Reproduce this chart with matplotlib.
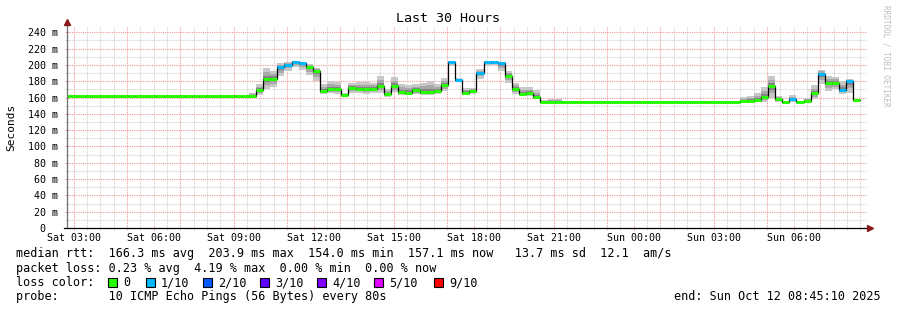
import numpy as np
import matplotlib
matplotlib.use("Agg")
import matplotlib.pyplot as plt
from matplotlib.patches import Rectangle

# ---------------- data ----------------
start_h = 2 + 45 / 60 + 10 / 3600      # Sat 02:45:10, hours since Sat 00:00
end_h = start_h + 30
step_h = 16 / 60                        # 960 s consolidation step
first_edge = 2.64

median = [162, 162, 162, 162, 162, 162, 162, 162, 161.5, 162,
          162, 162, 162, 162, 162, 162, 161.5, 162, 162, 161.5,
          161.5, 162, 162, 162, 162, 162, 162, 169, 183, 183,
          197, 200, 203.6, 202, 197.5, 192, 168, 170, 170, 162.5,
          172, 171, 170, 171, 174, 164, 174, 167, 166, 169,
          167, 167, 168, 175, 203.6, 182, 166, 168, 190, 203.6,
          203.6, 202, 187, 171, 164, 165, 161, 155, 155, 155,
          154.5, 154.5, 154.5, 154.5, 154.5, 154.5, 154.5, 154.5, 154.5, 154.5,
          154.5, 154.5, 154.5, 154.5, 154.5, 154.5, 154.5, 154.5, 154.5, 154.5,
          154.5, 154.5, 154.5, 154.5, 154.5, 155.5, 155.7, 156.7, 160.4, 173.8,
          158, 154, 158, 154.7, 156, 165, 189, 178, 178, 169.8,
          180, 157.1, np.nan]
smoke_lo = [161.5, 161.5, 161.5, 161.5, 161.5, 161.5, 161.5, 161.5, 161, 161.5,
            161.5, 161.5, 161.5, 161.5, 161.5, 161.5, 161, 161.5, 161.5, 161,
            161, 161.5, 161.5, 161.5, 161.5, 161.5, 161.5, 163, 171, 173,
            186, 193, 198, 194, 188, 180, 164, 165, 164, 161,
            166, 165, 164, 165, 166, 161, 167, 163, 163, 164,
            163, 163, 164, 168, 199, 180, 163, 164, 183, 199,
            200, 192, 178, 164, 162, 162, 158, 154, 154, 154,
            154, 154, 154, 154, 154, 154, 154, 154, 154, 154,
            154, 154, 154, 154, 154, 154, 154, 154, 154, 154,
            154, 154, 154, 154, 154, 154, 154, 154, 155, 160,
            155, 153.5, 155, 154, 154, 158, 176, 168, 170, 164,
            166, 155, np.nan]
smoke_hi = [163, 163, 163, 163, 163, 163, 163, 163, 162.5, 163,
            163, 163, 163, 163, 163, 163, 162.5, 163, 163, 162.5,
            162.5, 163, 163, 163, 163, 163, 166, 176, 196, 193,
            202, 204, 205, 204, 201, 196, 176, 180, 179, 166,
            178, 179, 179, 178, 187, 170, 185, 176, 175, 176,
            178, 180, 177, 184, 205, 184, 172, 172, 195, 205,
            205, 204, 193, 178, 173, 173, 169, 157, 158, 158.5,
            156, 155, 155, 155, 155, 155, 155, 155, 155, 155,
            155, 155, 155, 155, 155, 155, 155, 155, 155, 155,
            155, 155, 155, 155, 155, 160.7, 162, 165.7, 173, 187,
            162, 156, 163, 156, 159, 175, 194, 186, 185, 180,
            183, 164, np.nan]
loss = [0] * 30 + [1, 1, 1, 1] + [0] * 20 + [1, 1, 0, 0, 1, 1, 1, 1] + [0] * 40 + \
       [1, 0, 0, 0, 1, 0, 0, 1, 1, 0, 0]

loss_labels = ["0", "1/10", "2/10", "3/10", "4/10", "5/10", "9/10"]
loss_colors = ["#26ff00", "#00b8ff", "#0059ff", "#5e00ff", "#7e00ff", "#dd00ff", "#ff0000"]

xtick_hours = [3, 6, 9, 12, 15, 18, 21, 24, 27, 30]
xtick_labels = ["Sat 03:00", "Sat 06:00", "Sat 09:00", "Sat 12:00", "Sat 15:00",
                "Sat 18:00", "Sat 21:00", "Sun 00:00", "Sun 03:00", "Sun 06:00"]
ytick_vals = [0, 20, 40, 60, 80, 100, 120, 140, 160, 180, 200, 220, 240]
ytick_labels = ["0  "] + ["%d m" % v for v in ytick_vals[1:]]

stats_rtt = "median rtt:  166.3 ms avg  203.9 ms max  154.0 ms min  157.1 ms now   13.7 ms sd  12.1  am/s"
stats_loss = "packet loss: 0.23 % avg  4.19 % max  0.00 % min  0.00 % now"
probe_text = "probe:       10 ICMP Echo Pings (56 Bytes) every 80s"
end_text = "end: Sun Oct 12 08:45:10 2025"

# ---------------- figure ----------------
W, H = 897, 310
MONO = "DejaVu Sans Mono"
plt.rcParams["font.family"] = MONO
fig = plt.figure(figsize=(W / 100, H / 100), dpi=100)
fig.patch.set_facecolor("white")

L, R, B, T = 67, 867, 228, 26
ax = fig.add_axes([L / W, 1 - B / H, (R - L) / W, (B - T) / H])
ax.set_facecolor("white")
ymax = (B - T) / (195.7 / 240)
ax.set_xlim(start_h, end_h)
ax.set_ylim(0, ymax)
for s in ax.spines.values():
    s.set_visible(False)

# grid
dot = (0, (1, 1))
for h in np.arange(2.5, end_h, 0.5):
    if h < start_h:
        continue
    major = abs((h - 1) % 2) < 1e-6
    ax.axvline(h, color="#f09a9a" if major else "#d0d0d0", lw=0.8, ls=dot, zorder=0)
for v in range(10, int(ymax) + 1, 10):
    major = v % 20 == 0
    ax.axhline(v, color="#f09a9a" if major else "#d0d0d0", lw=0.8, ls=dot, zorder=0)

# smoke + median
med = np.array(median, float)
lo = np.array(smoke_lo, float)
hi = np.array(smoke_hi, float)
edges = first_edge + step_h * np.arange(len(med) + 1)
ext = lambda a: np.append(a, a[-1])
layers = [(1.0, "#c8c8c8"), (0.6, "#a8a8a8"), (0.3, "#848484")]
for f, c in layers:
    ax.fill_between(edges, ext(med - (med - lo) * f), ext(med + (hi - med) * f),
                    step="post", color=c, lw=0, zorder=2)
ax.step(edges, ext(med), where="post", color="black", lw=0.9, zorder=3)
cols = [loss_colors[l] for l in loss]
ax.hlines(med, edges[:-1], edges[1:], colors=cols, lw=2.2, zorder=4)

# ticks
ax.set_xticks(xtick_hours)
ax.set_xticklabels(xtick_labels, fontsize=7.2)
ax.set_xticks(np.arange(3.0, end_h, 0.5), minor=True)
ax.tick_params(axis="x", which="major", length=3, width=0.6, color="#f09a9a",
               direction="inout", pad=2)
ax.tick_params(axis="x", which="minor", length=3, width=0.6, color="#cccccc",
               direction="inout")
ax.set_yticks(ytick_vals)
ax.set_yticklabels(ytick_labels, fontsize=7.2)
ax.set_yticks(range(10, 250, 20), minor=True)
ax.tick_params(axis="y", which="major", length=3, width=0.6, color="#f09a9a",
               direction="inout", pad=5)
ax.tick_params(axis="y", which="minor", length=3, width=0.6, color="#cccccc",
               direction="inout")

# axes lines with arrows
def fx(x):
    return x / W
def fy(y):
    return 1 - y / H
fig.add_artist(plt.Line2D([fx(L), fx(L)], [fy(B), fy(22)], color="#707070", lw=0.9))
fig.add_artist(plt.Line2D([fx(L - 3), fx(870)], [fy(B), fy(B)], color="black", lw=0.9))
fig.add_artist(plt.Line2D([fx(L)], [fy(22)], marker="^", color="#8b1a1a", markersize=4, lw=0))
fig.add_artist(plt.Line2D([fx(870)], [fy(B)], marker=">", color="#8b1a1a", markersize=4, lw=0))

# texts
fig.text(fx(448), fy(19), "Last 30 Hours", fontsize=9.6, ha="center", va="center")
fig.text(fx(11), fy(127), "Seconds", fontsize=8, rotation=90, ha="center", va="center")
fig.text(fx(886), fy(5), "RRDTOOL / TOBI OETIKER", fontsize=5.5, rotation=270,
         ha="center", va="top", color="#bdbdbd")

fs = 8.45
fig.text(fx(16), fy(254), stats_rtt, fontsize=fs, ha="left", va="center")
fig.text(fx(16), fy(268.5), stats_loss, fontsize=fs, ha="left", va="center")
fig.text(fx(16), fy(282.5), "loss color:", fontsize=fs, ha="left", va="center")
box_x = [108, 146, 203, 260, 317, 374, 434]
for bx, lab, c in zip(box_x, loss_labels, loss_colors):
    fig.add_artist(Rectangle((fx(bx), fy(287)), 9 / W, 9 / H, facecolor=c,
                             edgecolor="black", lw=0.8, transform=fig.transFigure))
    fig.text(fx(bx + 15), fy(282.5), lab, fontsize=fs, ha="left", va="center")
fig.text(fx(16), fy(296.5), probe_text, fontsize=fs, ha="left", va="center")
fig.text(fx(881), fy(296.5), end_text, fontsize=fs, ha="right", va="center")

fig.savefig("out.png", dpi=100, facecolor="white")
